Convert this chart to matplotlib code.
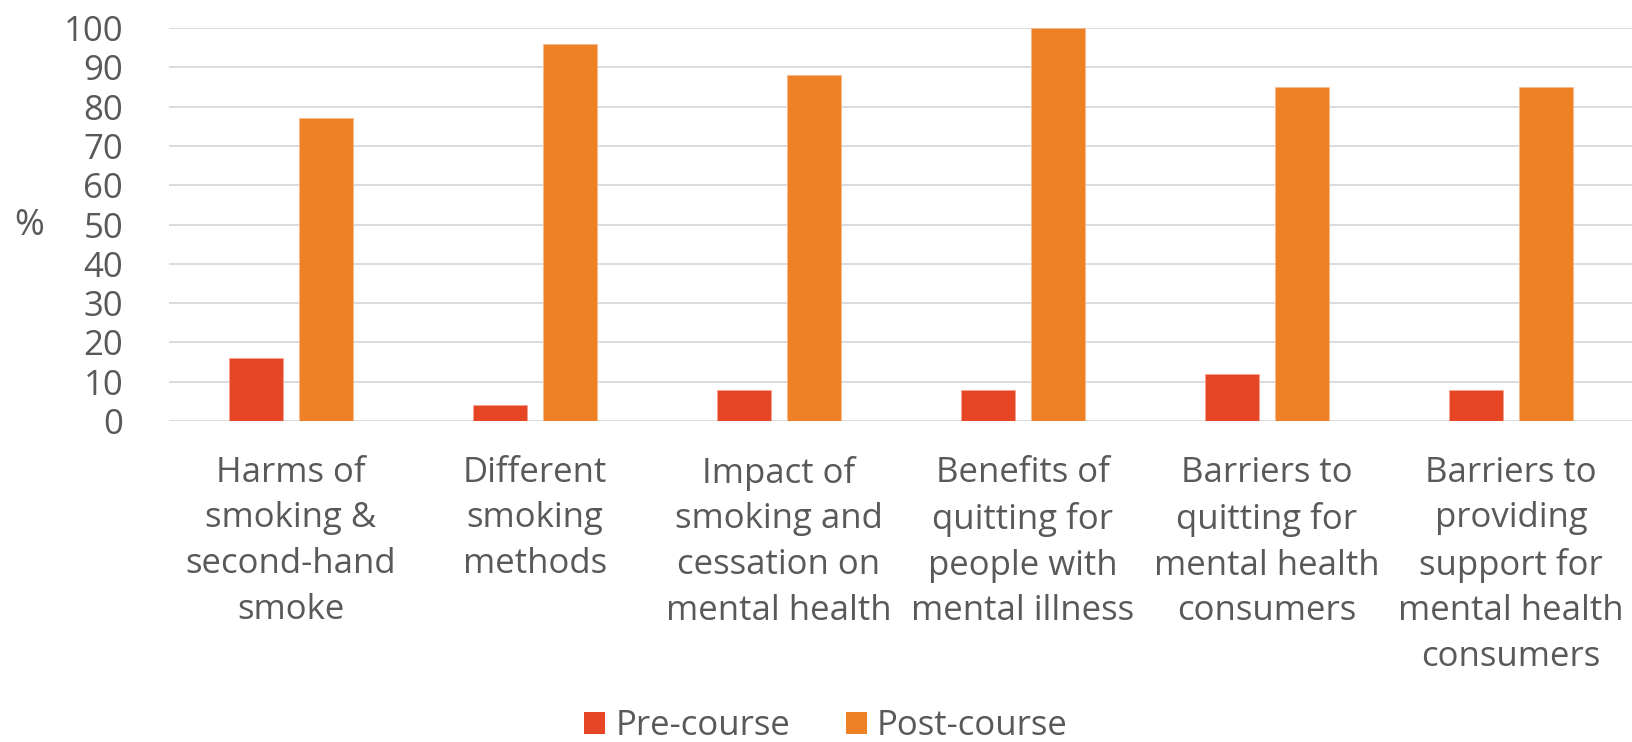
import matplotlib
matplotlib.use("Agg")
import matplotlib.pyplot as plt
import numpy as np
from matplotlib.patches import Patch

categories = [
    "Harms of\nsmoking &\nsecond-hand\nsmoke",
    "Different\nsmoking\nmethods",
    "Impact of\nsmoking and\ncessation on\nmental health",
    "Benefits of\nquitting for\npeople with\nmental illness",
    "Barriers to\nquitting for\nmental health\nconsumers",
    "Barriers to\nproviding\nsupport for\nmental health\nconsumers",
]
pre_course = [16, 4, 8, 8, 12, 8]
post_course = [77, 96, 88, 100, 85, 85]
series_names = ["Pre-course", "Post-course"]
y_ticks = [0, 10, 20, 30, 40, 50, 60, 70, 80, 90, 100]

PRE_COLOR = "#E64626"
POST_COLOR = "#EE8126"
TEXT = "#595959"
GRID = "#D9D9D9"
FONT = "Open Sans"
FS = 25

plt.rcParams['font.family'] = [FONT, 'DejaVu Sans']

fig = plt.figure(figsize=(16.33, 7.42), dpi=100)
ax = fig.add_axes([169/1633, 321/742, 1 - 169/1633, (421-28)/742])

x = np.arange(len(categories))
bw = 0.221
off = 0.1434
ax.bar(x - off, pre_course, bw, color=PRE_COLOR, zorder=3, edgecolor='#F5A08F', linewidth=0.5)
ax.bar(x + off, post_course, bw, color=POST_COLOR, zorder=3, edgecolor='#F7B98A', linewidth=0.5)

ax.set_xlim(-0.5, len(categories) - 0.5)
ax.set_ylim(0, 100)
ax.set_yticks(y_ticks)
ax.set_yticklabels([str(v) for v in y_ticks], fontsize=FS, color=TEXT)
ax.set_xticks(x)
ax.set_xticklabels(categories, fontsize=FS, color=TEXT, linespacing=1.45)
ax.tick_params(axis='y', length=0, pad=33)
ax.tick_params(axis='x', length=0, pad=25)
ax.yaxis.grid(True, color=GRID, linewidth=1.3, zorder=0)
ax.set_axisbelow(True)
for s in ax.spines.values():
    s.set_visible(False)

fig.text(29/1633, 1 - 226/742, "%", fontsize=FS + 1, color=TEXT, ha='center', va='center')

handles = [Patch(facecolor=PRE_COLOR), Patch(facecolor=POST_COLOR)]
fig.legend(handles, series_names, loc='center', bbox_to_anchor=(826/1633, 1 - 726/742),
           ncol=2, frameon=False, fontsize=FS, labelcolor=TEXT,
           handlelength=0.6, handleheight=0.6, handletextpad=0.3, columnspacing=1.6)

fig.savefig("out.png", dpi=100, facecolor="white")
